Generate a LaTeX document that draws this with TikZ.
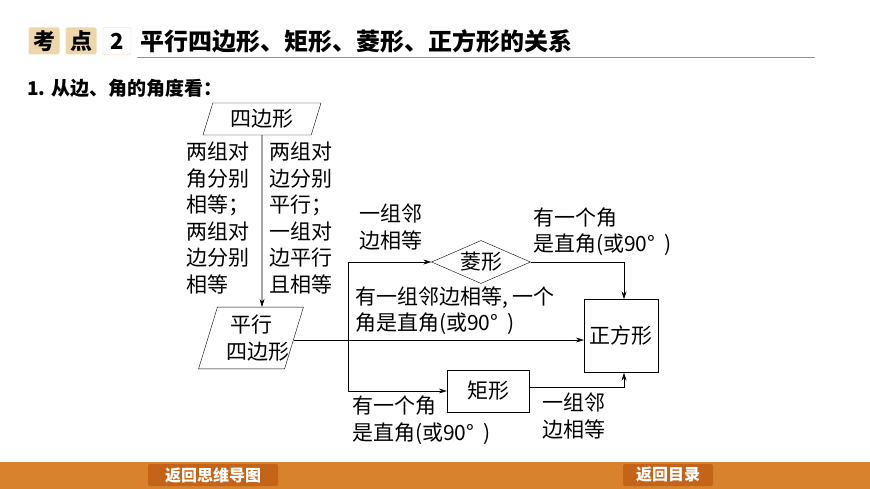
\documentclass[tikz,border=0pt]{standalone}
\usepackage{fontspec}
\setmainfont{Noto Sans CJK SC}
\usetikzlibrary{positioning,shapes.geometric,arrows.meta}
\definecolor{barorange}{RGB}{216,130,45}
\definecolor{btnorange}{RGB}{196,100,25}
\definecolor{tan}{RGB}{238,214,170}
\tikzset{
  lbl/.style={font=\fontsize{21}{26.5}\selectfont, align=left, inner sep=0pt},
  flow/.style={-{Stealth[length=8pt,width=5pt]}, semithick},
  btn/.style={fill=btnorange, text=white, rounded corners=2pt, font=\bfseries\fontsize{16}{18}\selectfont, minimum height=22pt, inner sep=1pt}
}
\begin{document}
\begin{tikzpicture}[x=1pt, y=-1pt]
    \useasboundingbox (0,0) rectangle (870,489);
    % header
    \node (k1) [fill=tan, rounded corners=2pt, minimum width=31pt, minimum height=27pt, font=\bfseries\fontsize{22}{22}\selectfont, inner sep=0pt] at (44,41) {考};
    \node (k2) [fill=tan, rounded corners=2pt, minimum width=31pt, minimum height=27pt, font=\bfseries\fontsize{22}{22}\selectfont, inner sep=0pt] at (81,41) {点};
    \node (k3) [draw=tan, fill=white, rounded corners=2pt, minimum width=28pt, minimum height=27pt, font=\bfseries\fontsize{22}{22}\selectfont, inner sep=0pt] at (117,41) {2};
    \node (title) [anchor=west, font=\bfseries\fontsize{24}{26}\selectfont, inner sep=0pt] at (140,41) {平行四边形、矩形、菱形、正方形的关系};
    \draw[barorange, semithick] (137,57) -- (815,57);
    \node (sub) [anchor=west, inner sep=0pt, font=\bfseries\fontsize{19}{22}\selectfont] at (27,88) {1. 从边、角的角度看：};

    % flow chart nodes
    \node (quad) [trapezium, trapezium left angle=73, trapezium right angle=107, draw, lbl, minimum width=95pt, minimum height=32pt, inner sep=1pt] at (262,119) {四边形};
    \node (para) [trapezium, trapezium left angle=73, trapezium right angle=107, draw, lbl, minimum width=105pt, minimum height=56pt, align=center, inner sep=0pt, text width=50pt] at (251,338) {平行\\四边形};
    \node (rhom) [diamond, draw, aspect=2.3, lbl, minimum width=99pt, minimum height=43pt, inner sep=0pt] at (481,262) {菱形};
    \node (rect) [draw, lbl, minimum width=82pt, minimum height=42pt] at (488,391) {矩形};
    \node (sq) [draw, lbl, minimum width=74pt, minimum height=73pt] at (621,336) {正方形};
    \coordinate (fork) at (348,340);
    \coordinate (cr) at (624,262);
    \coordinate (cb) at (624,387);

    % connectors
    \draw[flow] (quad) -- (quad |- para.north);
    \draw[flow] (para.east |- fork) -- (sq.west |- fork);
    \draw[flow] (fork) |- (rhom.west);
    \draw[flow] (fork) |- (rect.west);
    \draw[flow] (rhom.east) -- (cr) -- (sq.north -| cr);
    \draw[flow] (rect.east |- cb) -- (cb) -- (sq.south -| cb);

    % labels
    \node (l1) [lbl, anchor=north west] at (186,142) {两组对\\角分别\\相等；\\两组对\\边分别\\相等};
    \node (l2) [lbl, anchor=north west] at (269,142) {两组对\\边分别\\平行；\\一组对\\边平行\\且相等};
    \node (l3) [lbl, anchor=south west] at (359,250) {一组邻\\边相等};
    \node (l4) [lbl, anchor=south west] at (533,256) {有一个角\\是直角(或90°\ \ )};
    \node (l5) [lbl, anchor=south west] at (355,335) {有一组邻边相等, 一个\\角是直角(或90°\ \ )};
    \node (l6) [lbl, anchor=north west] at (352,396) {有一个角\\是直角(或90°\ \ )};
    \node (l7) [lbl, anchor=north west] at (542,393) {一组邻\\边相等};

    % bottom bar
    \fill[barorange] (0,462) rectangle (870,489);
    \node (b1) [btn, minimum width=130pt] at (213,475) {返回思维导图};
    \node (b2) [btn, minimum width=90pt] at (668,475) {返回目录};
\end{tikzpicture}
\end{document}
